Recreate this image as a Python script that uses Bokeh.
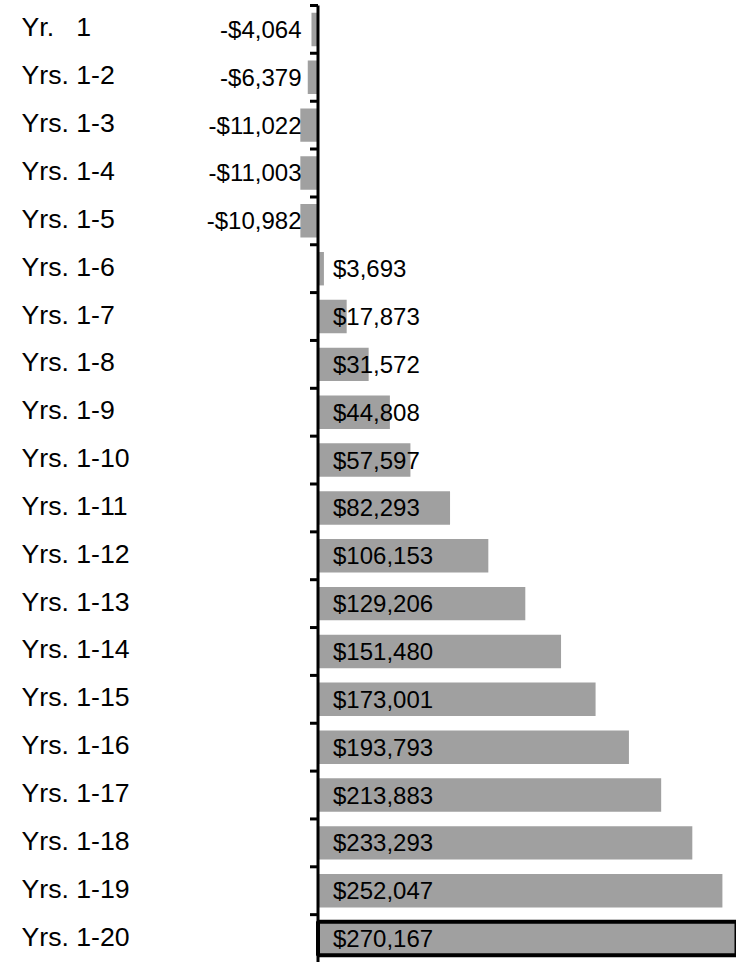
from bokeh.plotting import figure
from bokeh.models import ColumnDataSource, Range1d
from bokeh.core.properties import value
from bokeh.embed import file_html
from bokeh.resources import INLINE

# ---- data ----
categories = ["Yr.   1", "Yrs. 1-2", "Yrs. 1-3", "Yrs. 1-4", "Yrs. 1-5",
              "Yrs. 1-6", "Yrs. 1-7", "Yrs. 1-8", "Yrs. 1-9", "Yrs. 1-10",
              "Yrs. 1-11", "Yrs. 1-12", "Yrs. 1-13", "Yrs. 1-14", "Yrs. 1-15",
              "Yrs. 1-16", "Yrs. 1-17", "Yrs. 1-18", "Yrs. 1-19", "Yrs. 1-20"]
cumulative = [-4064, -6379, -11022, -11003, -10982,
              3693, 17873, 31572, 44808, 57597,
              82293, 106153, 129206, 151480, 173001,
              193793, 213883, 233293, 252047, 270167]
highlight = ["Yrs. 1-20"]

# ---- layout ----
W, H = 736, 962
PX_PER_DOLLAR = 1.6045e-3      # horizontal scale
ZERO_PX = 317.5                # zero line position inside the figure
TOP_PX = 5                     # first row boundary inside the figure
ROW_PX = (H - TOP_PX) / 20.0   # row pitch

x_start = -ZERO_PX / PX_PER_DOLLAR
x_end = (W - ZERO_PX) / PX_PER_DOLLAR
y_top = (0 - TOP_PX) / ROW_PX
y_bottom = (H - TOP_PX) / ROW_PX

n = len(categories)
rows = [i + 0.5 for i in range(n)]

def fmt(v):
    return ("-$" if v < 0 else "$") + f"{abs(v):,}"

src = ColumnDataSource(dict(
    y=rows,
    right=cumulative,
    line_alpha=[1 if c in highlight else 0 for c in categories],
))

p = figure(width=W, height=H, output_backend="svg", toolbar_location=None,
           x_range=Range1d(x_start, x_end), y_range=Range1d(y_bottom, y_top),
           x_axis_location=None, y_axis_location=None, min_border=0,
           background_fill_color="white", border_fill_color="white")
p.outline_line_color = None
p.grid.visible = False

p.hbar(y="y", left=0, right="right", height=0.7, source=src,
       fill_color="#A0A0A0", line_color="black", line_width=4,
       line_alpha="line_alpha")

# axis line and ticks at category boundaries
tick_len = 8 / PX_PER_DOLLAR
bounds = list(range(n))
p.segment(x0=[0], y0=[0], x1=[0], y1=[n], line_color="black", line_width=3)
p.segment(x0=[-tick_len] * len(bounds), y0=bounds, x1=[0] * len(bounds), y1=bounds,
          line_color="black", line_width=3)

# value labels
neg = [i for i, v in enumerate(cumulative) if v < 0]
pos = [i for i, v in enumerate(cumulative) if v >= 0]
neg_src = ColumnDataSource(dict(x=[0] * len(neg), y=[rows[i] for i in neg],
                                t=[fmt(cumulative[i]) for i in neg]))
pos_src = ColumnDataSource(dict(x=[0] * len(pos), y=[rows[i] for i in pos],
                                t=[fmt(cumulative[i]) for i in pos]))
p.text(x="x", y="y", text="t", source=neg_src, text_align="right",
       text_baseline="middle", x_offset=-16.5, y_offset=0,
       text_font=value("Liberation Sans"), text_font_size="24px", text_color="black")
p.text(x="x", y="y", text="t", source=pos_src, text_align="left",
       text_baseline="middle", x_offset=15, y_offset=0,
       text_font=value("Liberation Sans"), text_font_size="24px", text_color="black")

# category labels
cat_src = ColumnDataSource(dict(x=[x_start] * n, y=rows,
                                t=[c.replace(" ", "\u00a0") for c in categories]))
p.text(x="x", y="y", text="t", source=cat_src, text_align="left",
       text_baseline="middle", x_offset=21, y_offset=-2,
       text_font=value("Liberation Sans"), text_font_size="26.67px", text_color="black")

open("out.html", "w").write(file_html(p, INLINE))
